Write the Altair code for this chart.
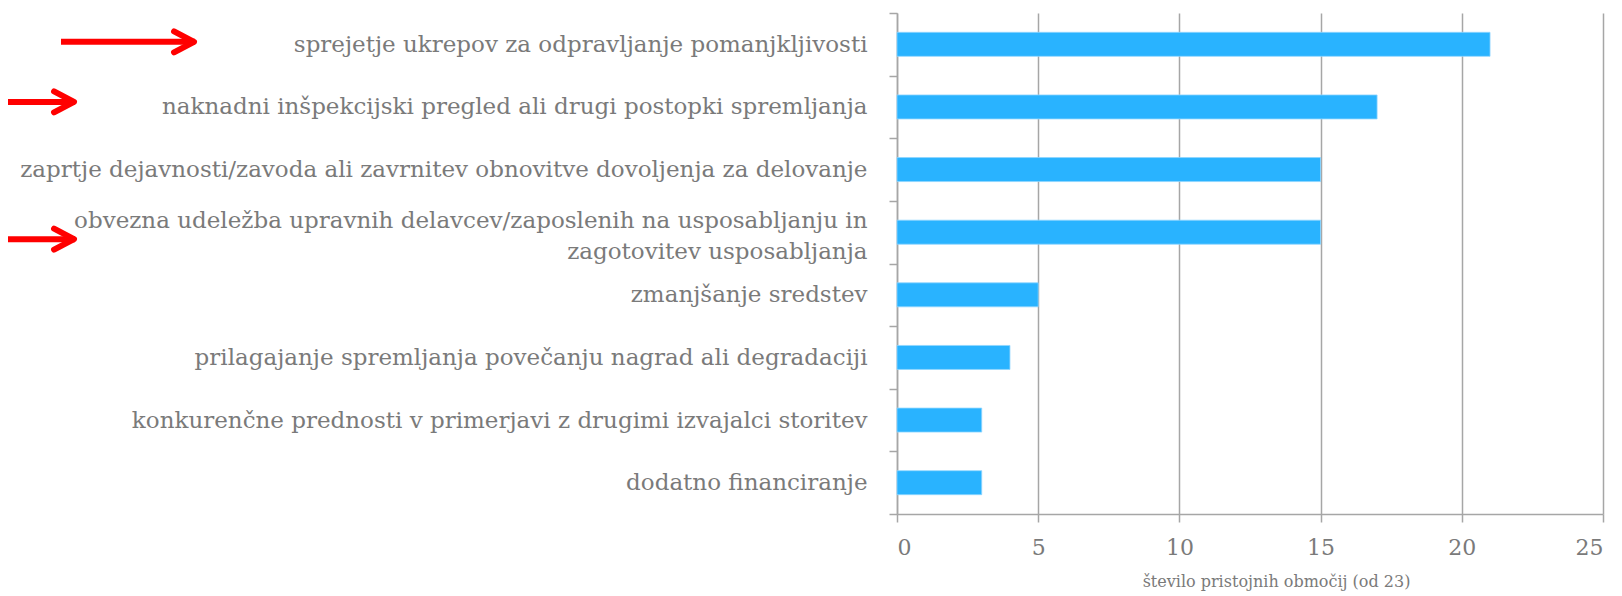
import altair as alt
import pandas as pd

categories = [
    "sprejetje ukrepov za odpravljanje pomanjkljivosti",
    "naknadni inšpekcijski pregled ali drugi postopki spremljanja",
    "zaprtje dejavnosti/zavoda ali zavrnitev obnovitve dovoljenja za delovanje",
    "obvezna udeležba upravnih delavcev/zaposlenih na usposabljanju in zagotovitev usposabljanja",
    "zmanjšanje sredstev",
    "prilagajanje spremljanja povečanju nagrad ali degradaciji",
    "konkurenčne prednosti v primerjavi z drugimi izvajalci storitev",
    "dodatno financiranje",
]
values = [21, 17, 15, 15, 5, 4, 3, 3]
x_ticks = [0, 5, 10, 15, 20, 25]
x_title = "število pristojnih območij (od 23)"
highlighted = [categories[0], categories[1], categories[3]]

df = pd.DataFrame({"kategorija": categories, "vrednost": values})

FONT = "DejaVu Serif"
GREY_TXT = "#7a7a7a"
GRID = "#a6a6a6"
RED = "#ff0000"

wrapped_test = "datum.value == '" + categories[3] + "'"
label_expr = (
    wrapped_test + " ? "
    "['obvezna udeležba upravnih delavcev/zaposlenih na usposabljanju in', "
    "'zagotovitev usposabljanja'] : datum.label"
)

y_axis = alt.Axis(
    title=None,
    labelExpr=label_expr,
    labelFont=FONT,
    labelFontSize=23,
    labelColor=GREY_TXT,
    labelPadding=22,
    labelLimit=1000,
    labelLineHeight=31,
    labelOffset={"condition": {"test": wrapped_test, "value": -12}, "value": 0},
    tickBand="extent",
    tickSize=8,
    tickColor=GRID,
    tickWidth=1.5,
    domainColor=GRID,
    domainWidth=1.5,
    grid=False,
)
y_scale = alt.Scale(paddingInner=0, paddingOuter=0)

def y_enc():
    return alt.Y("kategorija:N", sort=categories, scale=y_scale, axis=y_axis)

bars = alt.Chart(df).mark_bar(color="#29b3ff", size=24, stroke="#8fd6ff", strokeWidth=0.8).encode(
    y=y_enc(),
    x=alt.X(
        "vrednost:Q",
        scale=alt.Scale(domain=[0, 25], nice=False),
        axis=alt.Axis(
            values=x_ticks,
            title=x_title,
            titleFont=FONT,
            titleFontSize=16,
            titleFontWeight="normal",
            titleColor=GREY_TXT,
            titlePadding=15,
            titleX=379,
            titleAlign="center",
            labelFont=FONT,
            labelFontSize=22,
            labelColor=GREY_TXT,
            labelPadding=15,
            tickSize=8,
            tickColor=GRID,
            tickWidth=1.5,
            domainColor=GRID,
            domainWidth=1.5,
            grid=True,
            gridColor=GRID,
            gridWidth=1.5,
        ),
    ),
)

arr_df = pd.DataFrame({"kategorija": highlighted})

def arrow(cat, x_start, x_tip, dy):
    d = arr_df[arr_df["kategorija"] == cat]
    shaft = alt.Chart(d).mark_rule(color=RED, strokeWidth=6, yOffset=dy).encode(
        y=y_enc(), x=alt.value(x_start), x2=alt.value(x_tip - 2)
    )
    head = alt.Chart(d).mark_point(
        shape="M-1.9,-1L0,0L-1.9,1",
        filled=False,
        color=RED,
        strokeWidth=6,
        size=441,
        opacity=1,
        strokeCap="round",
        strokeJoin="round",
        yOffset=dy,
    ).encode(y=y_enc(), x=alt.value(x_tip - 3))
    return [shaft, head]

layers = [bars]
layers += arrow(highlighted[0], -836, -700, -2.5)
layers += arrow(highlighted[1], -900, -820, -5)
layers += arrow(highlighted[2], -900, -820, 7)

chart = alt.layer(*layers).properties(
    width=706,
    height=501,
    autosize=alt.AutoSizeParams(type="none"),
    padding={"left": 889, "top": 5, "right": 11, "bottom": 81},
).configure_view(stroke=None)

chart.save("out.html", embed_options={"renderer": "svg", "actions": False})
